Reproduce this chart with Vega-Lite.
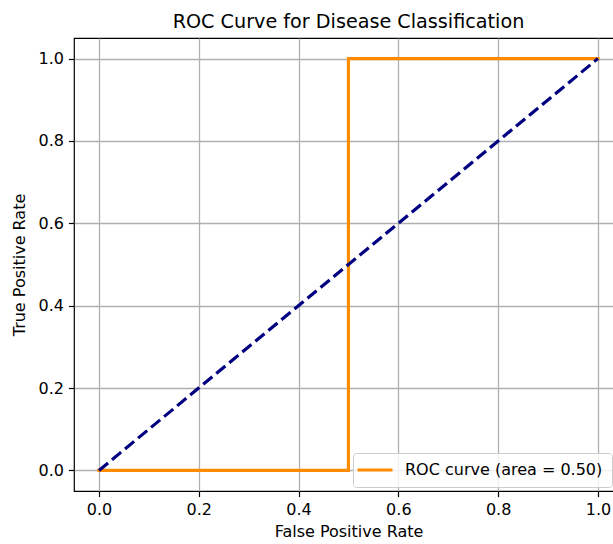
{
  "$schema": "https://vega.github.io/schema/vega-lite/v6.json",
  "autosize": "none",
  "width": 540,
  "height": 453,
  "padding": {"left": 74, "top": 38, "right": 0, "bottom": 53},
  "background": "white",
  "title": {"text": "ROC Curve for Disease Classification", "fontSize": 19.2, "font": "DejaVu Sans", "fontWeight": "normal", "color": "#000", "anchor": "middle", "dx": 4.5, "offset": 6},
  "config": {
    "font": "DejaVu Sans",
    "view": {"stroke": "#000", "strokeWidth": 1.2},
    "axis": {
      "gridColor": "#b0b0b0", "gridWidth": 1.28, "gridOpacity": 1,
      "domain": false,
      "tickColor": "#000", "tickSize": 5.6, "tickWidth": 1.2,
      "labelFontSize": 16, "labelColor": "#000", "labelPadding": 5,
      "titleFontSize": 16, "titleColor": "#000", "titleFontWeight": "normal"
    }
  },
  "layer": [
    {
      "data": {"values": [
        {"fpr": 0, "tpr": 0, "o": 1, "series": "ROC curve (area = 0.50)"},
        {"fpr": 0.5, "tpr": 0, "o": 2, "series": "ROC curve (area = 0.50)"},
        {"fpr": 0.5, "tpr": 1, "o": 3, "series": "ROC curve (area = 0.50)"},
        {"fpr": 1, "tpr": 1, "o": 4, "series": "ROC curve (area = 0.50)"}
      ]},
      "mark": {"type": "line", "strokeWidth": 3.2, "strokeJoin": "miter", "strokeCap": "square", "clip": true},
      "encoding": {
        "x": {"field": "fpr", "type": "quantitative", "scale": {"domain": [-0.05, 1.0322], "nice": false, "zero": false},
              "axis": {"values": [0, 0.2, 0.4, 0.6, 0.8, 1.0], "format": ".1f", "title": "False Positive Rate", "titlePadding": 6, "titleX": 274.5}},
        "y": {"field": "tpr", "type": "quantitative", "scale": {"domain": [-0.05, 1.05], "nice": false, "zero": false},
              "axis": {"values": [0, 0.2, 0.4, 0.6, 0.8, 1.0], "format": ".1f", "title": "True Positive Rate", "titlePadding": 10}},
        "order": {"field": "o"},
        "color": {"field": "series", "type": "nominal", "scale": {"range": ["#ff8c00"]},
                  "legend": {"title": null, "orient": "none", "legendX": 279, "legendY": 415,
                             "symbolType": "M-5,0H5", "symbolSize": 49, "symbolStrokeWidth": 3.2, "symbolOffset": 5,
                             "labelFontSize": 16, "labelColor": "#000", "labelOffset": 22, "labelLimit": 0,
                             "fillColor": "rgba(255,255,255,0.8)", "strokeColor": "#cccccc", "cornerRadius": 3, "padding": 9}}
      }
    },
    {
      "data": {"values": [
        {"fpr": 0, "tpr": 0},
        {"fpr": 1, "tpr": 1}
      ]},
      "mark": {"type": "line", "color": "#000080", "strokeWidth": 3.2, "strokeDash": [11.8, 5.1]},
      "encoding": {
        "x": {"field": "fpr", "type": "quantitative"},
        "y": {"field": "tpr", "type": "quantitative"}
      }
    }
  ]
}
